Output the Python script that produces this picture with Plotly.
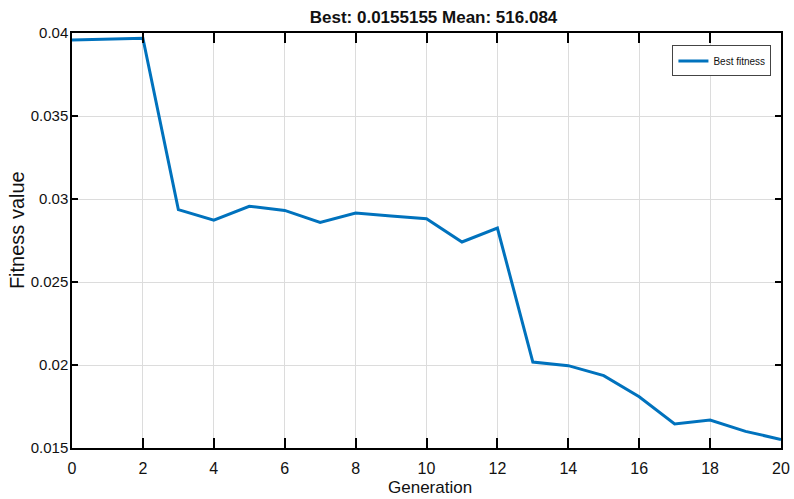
import plotly.graph_objects as go

generation = list(range(0, 21))
best_fitness = [0.03958, 0.03964, 0.03968, 0.02936, 0.02873, 0.02956, 0.02931,
                0.02859, 0.02916, 0.02898, 0.02881, 0.02741, 0.02825, 0.02018,
                0.01996, 0.01936, 0.01809, 0.01645, 0.01669, 0.01600, 0.0155155]
x_ticks = list(range(0, 21, 2))
y_ticks = [0.015, 0.02, 0.025, 0.03, 0.035, 0.04]
y_tick_text = ["0.015", "0.02", "0.025", "0.03", "0.035", "0.04"]
title_text = "Best: 0.0155155 Mean: 516.084"
x_title = "Generation"
y_title = "Fitness value"

FONT = "Liberation Sans, Arial"

fig = go.Figure()
fig.add_trace(go.Scatter(
    x=generation, y=best_fitness, mode="lines", name="Best fitness",
    line=dict(color="#0072BD", width=3),
))

fig.update_layout(
    width=794, height=499,
    paper_bgcolor="white", plot_bgcolor="white",
    margin=dict(l=72, r=13, t=33, b=51, autoexpand=False),
    title=dict(text="<b>" + title_text + "</b>", x=0.546, xanchor="center",
               y=0.966, yanchor="middle",
               font=dict(family=FONT, size=17, color="#111")),
    showlegend=True,
    legend=dict(x=0.9865, xanchor="right", y=0.97, yanchor="top",
                bgcolor="white", bordercolor="#444", borderwidth=1,
                font=dict(family=FONT, size=10, color="#111"),
                itemwidth=30, tracegroupgap=0),
    font=dict(family=FONT, color="#111"),
    annotations=[
        dict(text=x_title, xref="paper", yref="paper", x=0.505, y=-0.094,
             xanchor="center", yanchor="middle", showarrow=False,
             font=dict(family=FONT, size=17, color="#111")),
        dict(text=y_title, xref="paper", yref="paper", x=-0.0776, y=0.525,
             xanchor="center", yanchor="middle", showarrow=False, textangle=-90,
             font=dict(family=FONT, size=20, color="#111")),
    ],
)

fig.update_xaxes(
    range=[0, 20], tickvals=x_ticks, ticktext=[str(v) for v in x_ticks],
    automargin=False,
    showgrid=True, gridcolor="#dcdcdc", gridwidth=1,
    showline=True, linecolor="black", linewidth=1.5, mirror="ticks",
    ticks="inside", ticklen=10, tickcolor="black", tickwidth=1.5,
    tickfont=dict(family=FONT, size=16, color="#111"),
    ticklabelstandoff=5,
    zeroline=False,
)
fig.update_yaxes(
    range=[0.015, 0.04], tickvals=y_ticks, ticktext=y_tick_text,
    automargin=False,
    showgrid=True, gridcolor="#dcdcdc", gridwidth=1,
    showline=True, linecolor="black", linewidth=1.5, mirror="ticks",
    ticks="inside", ticklen=6, tickcolor="black", tickwidth=1.5,
    tickfont=dict(family=FONT, size=15, color="#111"),
    ticklabelstandoff=-1,
    zeroline=False,
)

fig.write_html("out.html", config={"displayModeBar": False},
               post_script="document.body.style.margin='0';document.body.style.overflow='hidden';")
